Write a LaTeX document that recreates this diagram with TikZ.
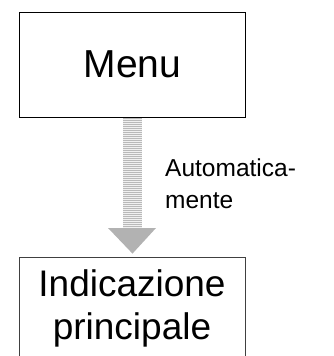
\documentclass[tikz,border=0pt]{standalone}
\usepackage{fontspec}
\setmainfont{Liberation Sans}
\usetikzlibrary{calc}

\begin{document}
\begin{tikzpicture}[x=1pt,y=-1pt,
  box/.style={draw,minimum width=226pt,inner sep=0pt,align=center},
  shaftline/.style={gray!55,line width=0.8pt}]
  \useasboundingbox (0,0) rectangle (333,356);
  \node [box,line width=1pt,minimum height=105pt,font=\fontsize{39}{47}\selectfont] (menu) at (132.5,64.5) {Menu};
  \node [box,draw=black!75,line width=0.8pt,minimum height=103.4pt,font=\fontsize{37}{43}\selectfont] (main) at (132,308.7) {Indicazione\\principale};
  \coordinate (shaftL) at ($(menu.south)+(-9.5,0)$);
  \coordinate (shaftR) at ($(menu.south)+(9.5,111)$);
  \fill [gray!12] (shaftL) rectangle (shaftR);
  \foreach \y in {118,120,...,226}
    \draw [shaftline] (123,\y) -- (142,\y);
  \fill [black!30] (108,228) -- (156,228) -- ($(main.north)+(0.5,-3)$) coordinate (tip) -- cycle;
  \node [anchor=north west,inner sep=0pt,align=left,font=\fontsize{24.5}{32.6}\selectfont] (auto) at (165,158.2) {Automatica-\\mente};
\end{tikzpicture}
\end{document}
